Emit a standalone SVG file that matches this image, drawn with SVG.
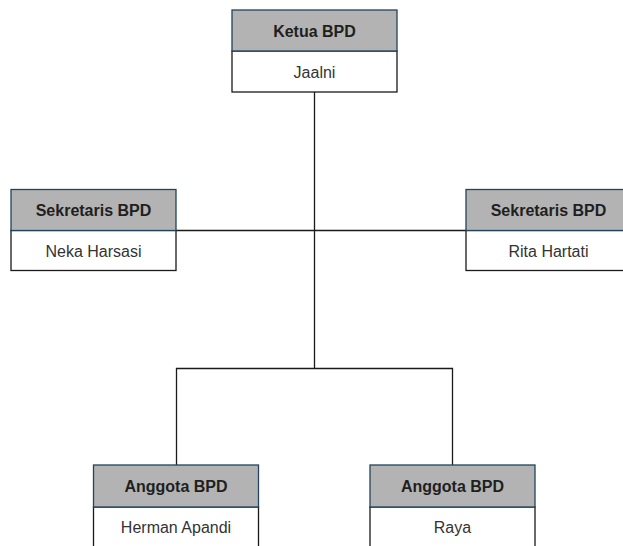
<svg xmlns="http://www.w3.org/2000/svg" width="623" height="546" viewBox="0 0 623 546">
<style>
.hd{fill:#b3b3b3;stroke:#23445d;stroke-width:1.3}
.bd{fill:#ffffff;stroke:#1a1a1a;stroke-width:1.3}
.ht{font-family:"Liberation Sans",Arial,sans-serif;font-size:16px;font-weight:bold;fill:#1f1f1f;text-anchor:middle;dominant-baseline:central}
.bt{font-family:"Liberation Sans",Arial,sans-serif;font-size:16px;fill:#333333;text-anchor:middle;dominant-baseline:central}
.ln{fill:none;stroke:#1a1a1a;stroke-width:1.3}
</style>
<rect width="623" height="546" fill="#ffffff"/>
<g id="connectors">
<path class="ln" d="M314.5 92 V368.5"/>
<path class="ln" d="M176 230.5 H466"/>
<path class="ln" d="M176.5 465 V368.5 H452.5 V465"/>
</g>
<g id="ketua">
<rect class="bd" x="232" y="51" width="165" height="41"/>
<rect class="hd" x="232" y="10" width="165" height="41"/>
<text class="ht" x="314.5" y="31">Ketua BPD</text>
<text class="bt" x="314.5" y="72">Jaalni</text>
</g>
<g id="sekretaris1">
<rect class="bd" x="11" y="230.5" width="165" height="40"/>
<rect class="hd" x="11" y="189.5" width="165" height="41"/>
<text class="ht" x="93.5" y="210.5">Sekretaris BPD</text>
<text class="bt" x="93.5" y="251">Neka Harsasi</text>
</g>
<g id="sekretaris2">
<rect class="bd" x="466" y="230.5" width="165" height="40"/>
<rect class="hd" x="466" y="189.5" width="165" height="41"/>
<text class="ht" x="548.5" y="210.5">Sekretaris BPD</text>
<text class="bt" x="548.5" y="251">Rita Hartati</text>
</g>
<g id="anggota1">
<rect class="bd" x="93.5" y="507" width="165" height="41"/>
<rect class="hd" x="93.5" y="465" width="165" height="42"/>
<text class="ht" x="176" y="486">Anggota BPD</text>
<text class="bt" x="176" y="527">Herman Apandi</text>
</g>
<g id="anggota2">
<rect class="bd" x="370" y="507" width="165" height="41"/>
<rect class="hd" x="370" y="465" width="165" height="42"/>
<text class="ht" x="452.5" y="486">Anggota BPD</text>
<text class="bt" x="452.5" y="527">Raya</text>
</g>
</svg>
